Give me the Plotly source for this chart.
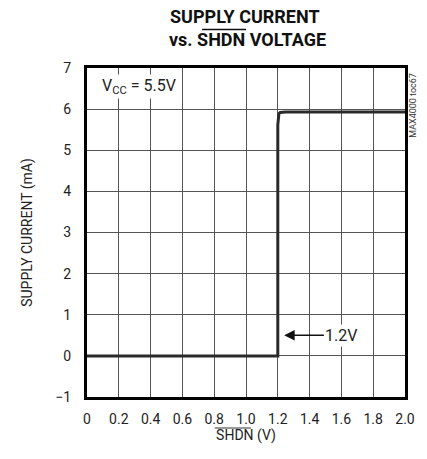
import plotly.graph_objects as go

# SHDN voltage sweep (V) and resulting supply current (mA)
shdn_v = [0.0, 0.6, 1.19, 1.2, 1.2, 1.203, 1.207, 1.215, 1.25, 1.6, 2.0]
supply_ma = [0.0, 0.0, 0.0, 0.0, 5.62, 5.82, 5.89, 5.92, 5.93, 5.93, 5.93]

x_ticks = [0, 0.2, 0.4, 0.6, 0.8, 1.0, 1.2, 1.4, 1.6, 1.8, 2.0]
x_tick_text = ["0", "0.2", "0.4", "0.6", "0.8", "1.0", "1.2", "1.4", "1.6", "1.8", "2.0"]
y_ticks = [-1, 0, 1, 2, 3, 4, 5, 6, 7]

FONT = "Roboto, Liberation Sans, sans-serif"

# plot area in pixels: used to place overlines in paper coordinates
L, R, T, B = 87, 413, 68, 397


def px(x):
    return (x - L) / (R - L)


def py(y):
    return (B - y) / (B - T)


fig = go.Figure()
fig.add_trace(go.Scatter(
    x=shdn_v, y=supply_ma, mode="lines",
    line=dict(color="#2a2a2a", width=3),
    showlegend=False, hoverinfo="skip",
))

fig.update_layout(
    width=427, height=459,
    margin=dict(l=L, r=427 - R, t=T, b=459 - B),
    paper_bgcolor="white", plot_bgcolor="white",
    font=dict(family=FONT, size=14, color="#222"),
    xaxis=dict(
        range=[0, 2.0], tickvals=x_ticks, ticktext=x_tick_text,
        showgrid=True, gridcolor="#555", gridwidth=1,
        showline=True, linecolor="black", linewidth=3, mirror=True,
        ticks="", ticklabelstandoff=7, zeroline=False,
        tickfont=dict(size=14),
        title=dict(text="SHDN (V)", font=dict(size=14), standoff=5),
    ),
    yaxis=dict(
        range=[-1, 7], tickvals=y_ticks,
        showgrid=True, gridcolor="#555", gridwidth=1,
        showline=True, linecolor="black", linewidth=3, mirror=True,
        ticks="", ticklabelstandoff=10, zeroline=False,
        tickfont=dict(size=14),
        title=dict(text="SUPPLY CURRENT (mA)", font=dict(size=14), standoff=20),
    ),
)

# Title, two bold lines
fig.add_annotation(
    xref="paper", yref="paper", x=px(249), y=py(16.5),
    xanchor="center", yanchor="middle", showarrow=False,
    text="<b>SUPPLY CURRENT</b>",
    font=dict(family=FONT, size=18, color="#111"),
)
fig.add_annotation(
    xref="paper", yref="paper", x=px(252), y=py(39),
    xanchor="center", yanchor="middle", showarrow=False,
    text="<b>vs. SHDN VOLTAGE</b>",
    font=dict(family=FONT, size=18, color="#111"),
)

# Overlines marking SHDN as active-low (title and x-axis title)
fig.add_shape(type="line", xref="paper", yref="paper",
              x0=px(205), x1=px(250), y0=py(29.5), y1=py(29.5),
              line=dict(color="#111", width=1.5))
fig.add_shape(type="line", xref="paper", yref="paper",
              x0=px(218), x1=px(255), y0=py(428), y1=py(428),
              line=dict(color="#333", width=1.2))

# Supply voltage condition
fig.add_annotation(
    x=0.08, y=6.55, xanchor="left", yanchor="middle", showarrow=False,
    text="V<sub>CC</sub> = 5.5V", bgcolor="white",
    font=dict(family=FONT, size=16, color="#222"),
)

# Threshold callout
fig.add_annotation(
    x=1.24, y=0.5, ax=1.6, ay=0.5, axref="x", ayref="y",
    text="1.2V", showarrow=True, arrowhead=2, arrowsize=1.4,
    arrowwidth=1.5, arrowcolor="#111", bgcolor="white",
    font=dict(family=FONT, size=16, color="#222"),
)

# Figure code
fig.add_annotation(
    xref="paper", yref="paper", x=px(421), y=py(105),
    xanchor="center", yanchor="middle", showarrow=False, textangle=-90,
    text="MAX4000 toc67", font=dict(family=FONT, size=9, color="#333"),
)

fig.write_html("out.html")
